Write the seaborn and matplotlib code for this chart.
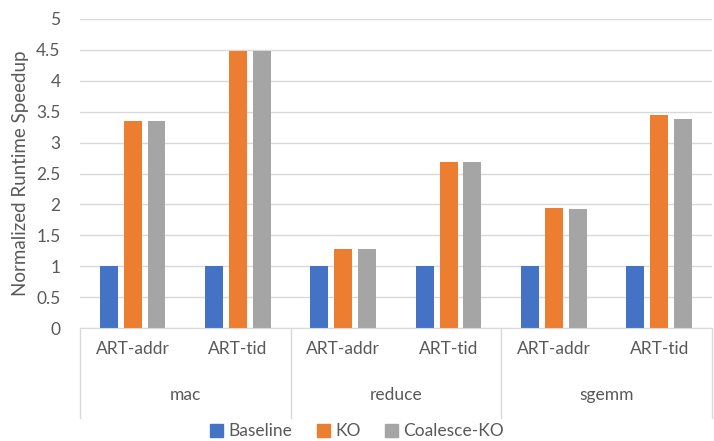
import pandas as pd
import numpy as np
import matplotlib.pyplot as plt
import matplotlib.transforms as mtransforms
import seaborn as sns

groups = ["mac", "mac", "reduce", "reduce", "sgemm", "sgemm"]
variants = ["ART-addr", "ART-tid", "ART-addr", "ART-tid", "ART-addr", "ART-tid"]
baseline = [1, 1, 1, 1, 1, 1]
ko = [3.35, 4.48, 1.28, 2.68, 1.94, 3.45]
coalesce_ko = [3.35, 4.48, 1.28, 2.68, 1.92, 3.38]
series_names = ["Baseline", "KO", "Coalesce-KO"]
colors = ["#4472C4", "#ED7D31", "#A5A5A5"]

rows = []
for i in range(len(groups)):
    cat = groups[i] + "|" + variants[i]
    for name, vals in zip(series_names, [baseline, ko, coalesce_ko]):
        rows.append({"cat": cat, "series": name, "value": vals[i]})
df = pd.DataFrame(rows)

sns.set_style("white")
plt.rcParams["font.family"] = ["Lato", "DejaVu Sans"]
txt = "#595959"

fig = plt.figure(figsize=(7.14, 4.41), dpi=100)
ax = fig.add_axes([0.112, 0.256, 0.885, 0.701])

sns.barplot(data=df, x="cat", y="value", hue="series", hue_order=series_names,
            palette=colors, width=0.68, gap=0.25, ax=ax, errorbar=None,
            saturation=1, linewidth=0)

ax.set_ylim(0, 5)
ax.set_xlim(-0.5, len(groups) - 0.5)
ax.set_yticks(np.arange(0, 5.01, 0.5))
ax.set_yticklabels(["0", "0.5", "1", "1.5", "2", "2.5", "3", "3.5", "4", "4.5", "5"])
ax.yaxis.grid(True, color="#D9D9D9", linewidth=1)
ax.set_axisbelow(True)
for s in ["left", "right", "top"]:
    ax.spines[s].set_visible(False)
ax.spines["bottom"].set_color("#D9D9D9")
ax.tick_params(axis="y", length=0, labelsize=12.5, labelcolor=txt, pad=14)
ax.tick_params(axis="x", length=0, labelsize=12.5, labelcolor=txt, pad=9)
ax.set_xticks(range(len(variants)))
ax.set_xticklabels(variants)
ax.set_xlabel("")
ax.set_ylabel("Normalized Runtime Speedup", fontsize=13.5, color=txt, labelpad=5)

# second level of category axis
trans = mtransforms.blended_transform_factory(ax.transData, ax.transAxes)
uniq = []
for g in groups:
    if g not in uniq:
        uniq.append(g)
bounds = [-0.5]
for g in uniq:
    idx = [i for i, x in enumerate(groups) if x == g]
    ax.text(np.mean(idx), -0.215, g, transform=trans, ha="center", va="center",
            fontsize=12.5, color=txt)
    bounds.append(max(idx) + 0.5)
for b in bounds:
    ax.plot([b, b], [0, -0.29], transform=trans, color="#D9D9D9", lw=1, clip_on=False)

ax.legend_.remove()
handles = [plt.Rectangle((0, 0), 1, 1, color=c) for c in colors]
fig.legend(handles, series_names, loc="center", bbox_to_anchor=(0.5, 0.022),
           ncol=3, frameon=False, fontsize=12.5, labelcolor=txt,
           handlelength=0.75, handleheight=0.75, handletextpad=0.3, columnspacing=1.4)

fig.savefig("out.png", dpi=100)
